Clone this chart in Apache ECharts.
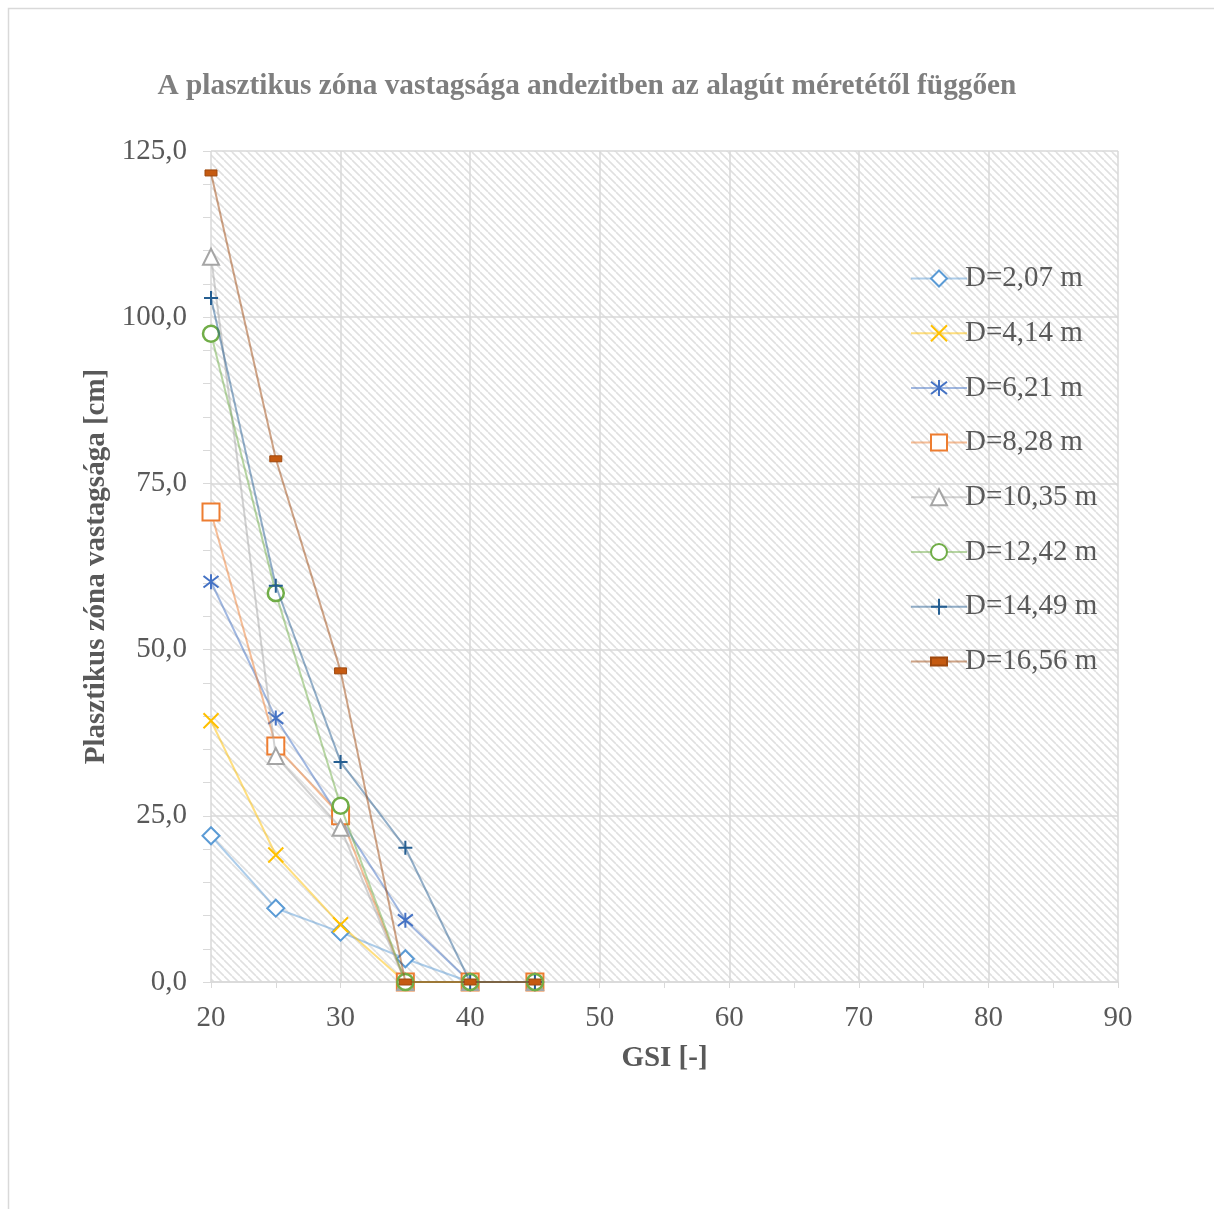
<!DOCTYPE html>
<html>
<head>
<meta charset="utf-8">
<script src="https://cdn.jsdelivr.net/npm/echarts@6/dist/echarts.min.js"></script>
<style>
  html, body { margin: 0; padding: 0; background: #fff; }
  #chart { width: 1214px; height: 1209px; }
</style>
</head>
<body>
<div id="chart"></div>
<script>
// GSI values (x)
var gsi = [20, 25, 30, 35, 40, 45];

// plastic zone thickness [cm] per tunnel diameter
var d207 = [22.0, 11.1, 7.5, 3.5, 0, 0];
var d414 = [39.3, 19.1, 8.6, 0, 0, 0];
var d621 = [60.2, 39.7, 24.5, 9.3, 0, 0];
var d828 = [70.7, 35.5, 25.0, 0, 0, 0];
var d1035 = [109.1, 34.0, 23.2, 0, 0, 0];
var d1242 = [97.5, 58.5, 26.5, 0, 0, 0];
var d1449 = [102.9, 59.6, 33.1, 20.2, 0, 0];
var d1656 = [121.7, 78.7, 46.8, 0, 0, 0];

var seriesNames = ['D=2,07 m', 'D=4,14 m', 'D=6,21 m', 'D=8,28 m', 'D=10,35 m', 'D=12,42 m', 'D=14,49 m', 'D=16,56 m'];
var seriesData = [d207, d414, d621, d828, d1035, d1242, d1449, d1656];

var colors = ['#5B9BD5', '#FFC000', '#4472C4', '#ED7D31', '#A5A5A5', '#70AD47', '#255E91', '#9E480E'];

// diagonal hatch for the plot background
var hatch = document.createElement('canvas');
hatch.width = 8;
hatch.height = 8;
var hctx = hatch.getContext('2d');
hctx.fillStyle = '#ffffff';
hctx.fillRect(0, 0, 8, 8);
hctx.strokeStyle = '#e0e0e0';
hctx.lineWidth = 1.6;
[-8, 0, 8].forEach(function (x0) {
    hctx.beginPath();
    hctx.moveTo(x0, 0);
    hctx.lineTo(x0 + 8, 8);
    hctx.stroke();
});

// the dash marker has a square bounding box so it keeps its shape in the legend too
var markers = [
    { symbol: 'diamond', size: 17, fill: '#fff', width: 2 },
    { symbol: 'path://M0,0L10,10M10,0L0,10', size: 15, fill: 'transparent', width: 2 },
    { symbol: 'path://M0,0L10,10M10,0L0,10M5,-1.5L5,11.5', size: 15, fill: 'transparent', width: 2 },
    { symbol: 'rect', size: 17, fill: '#fff', width: 2 },
    { symbol: 'triangle', size: 16, fill: '#fff', width: 2 },
    { symbol: 'circle', size: 16, fill: '#fff', width: 2.5 },
    { symbol: 'path://M5,0L5,10M0,5L10,5', size: 14, fill: 'transparent', width: 2 },
    { symbol: 'path://M0,-3M12,9M0,0L12,0L12,6L0,6Z', size: 12, fill: '#C55A11', width: 1 }
];

var series = seriesNames.map(function (name, i) {
    var m = markers[i];
    return {
        name: name,
        type: 'line',
        data: gsi.map(function (g, k) { return [g, seriesData[i][k]]; }),
        symbol: m.symbol,
        symbolSize: m.size,
        showAllSymbol: true,
        lineStyle: { color: colors[i], width: 2, opacity: 0.5 },
        itemStyle: { color: m.fill, borderColor: colors[i], borderWidth: m.width, opacity: 1 },
        emphasis: { disabled: true },
        z: 2 + i
    };
});

var fontFamily = '"Liberation Serif", "Times New Roman", serif';

var myChart = echarts.init(document.getElementById('chart'));
var option = {
    animation: false,
    backgroundColor: '#fff',
    graphic: [{
        type: 'rect',
        shape: { x: 8.5, y: 8.5, width: 1300, height: 1300 },
        style: { fill: 'none', stroke: '#d9d9d9', lineWidth: 1.5 },
        silent: true,
        z: -10
    }],
    title: {
        text: 'A plasztikus zóna vastagsága andezitben az alagút méretétől függően',
        left: 582,
        textAlign: 'center',
        top: 67,
        textStyle: { fontFamily: fontFamily, fontSize: 29.3, fontWeight: 'bold', color: '#7f7f7f' }
    },
    legend: {
        orient: 'vertical',
        left: 905,
        top: 259,
        itemWidth: 56,
        itemHeight: 20,
        itemGap: 25.7,
        data: seriesNames,
        lineStyle: { opacity: 0.5 },
        textStyle: { fontFamily: fontFamily, fontSize: 29, color: '#595959', lineHeight: 29, padding: [0, 0, 0, -7] }
    },
    grid: {
        left: 211,
        right: 96,
        top: 151,
        bottom: 227,
        show: true,
        borderWidth: 0,
        backgroundColor: { image: hatch, repeat: 'repeat' }
    },
    xAxis: {
        type: 'value',
        min: 20,
        max: 90,
        interval: 10,
        name: 'GSI [-]',
        nameLocation: 'middle',
        nameGap: 62,
        nameTextStyle: { fontFamily: fontFamily, fontSize: 29, fontWeight: 'bold', color: '#595959' },
        axisLine: { show: true, lineStyle: { color: '#d9d9d9', width: 1.5 } },
        axisTick: { show: true, length: 6, lineStyle: { color: '#d9d9d9' } },
        minorTick: { show: true, splitNumber: 2, length: 6, lineStyle: { color: '#d9d9d9' } },
        splitLine: { show: true, lineStyle: { color: '#d9d9d9', width: 1.5 } },
        axisLabel: { margin: 22, fontFamily: fontFamily, fontSize: 29, color: '#595959' }
    },
    yAxis: {
        type: 'value',
        min: 0,
        max: 125,
        interval: 25,
        name: 'Plasztikus zóna vastagsága [cm]',
        nameLocation: 'middle',
        nameGap: 99,
        nameTextStyle: { fontFamily: fontFamily, fontSize: 29, fontWeight: 'bold', color: '#595959' },
        axisLine: { show: false },
        axisTick: { show: true, length: 8, lineStyle: { color: '#d9d9d9' } },
        minorTick: { show: true, splitNumber: 5, length: 8, lineStyle: { color: '#d9d9d9' } },
        splitLine: { show: true, lineStyle: { color: '#d9d9d9', width: 1.5 } },
        axisLabel: {
            margin: 24,
            fontFamily: fontFamily,
            fontSize: 29,
            color: '#595959',
            formatter: function (v) { return v.toFixed(1).replace('.', ','); }
        }
    },
    series: series
};
myChart.setOption(option);
</script>
</body>
</html>
